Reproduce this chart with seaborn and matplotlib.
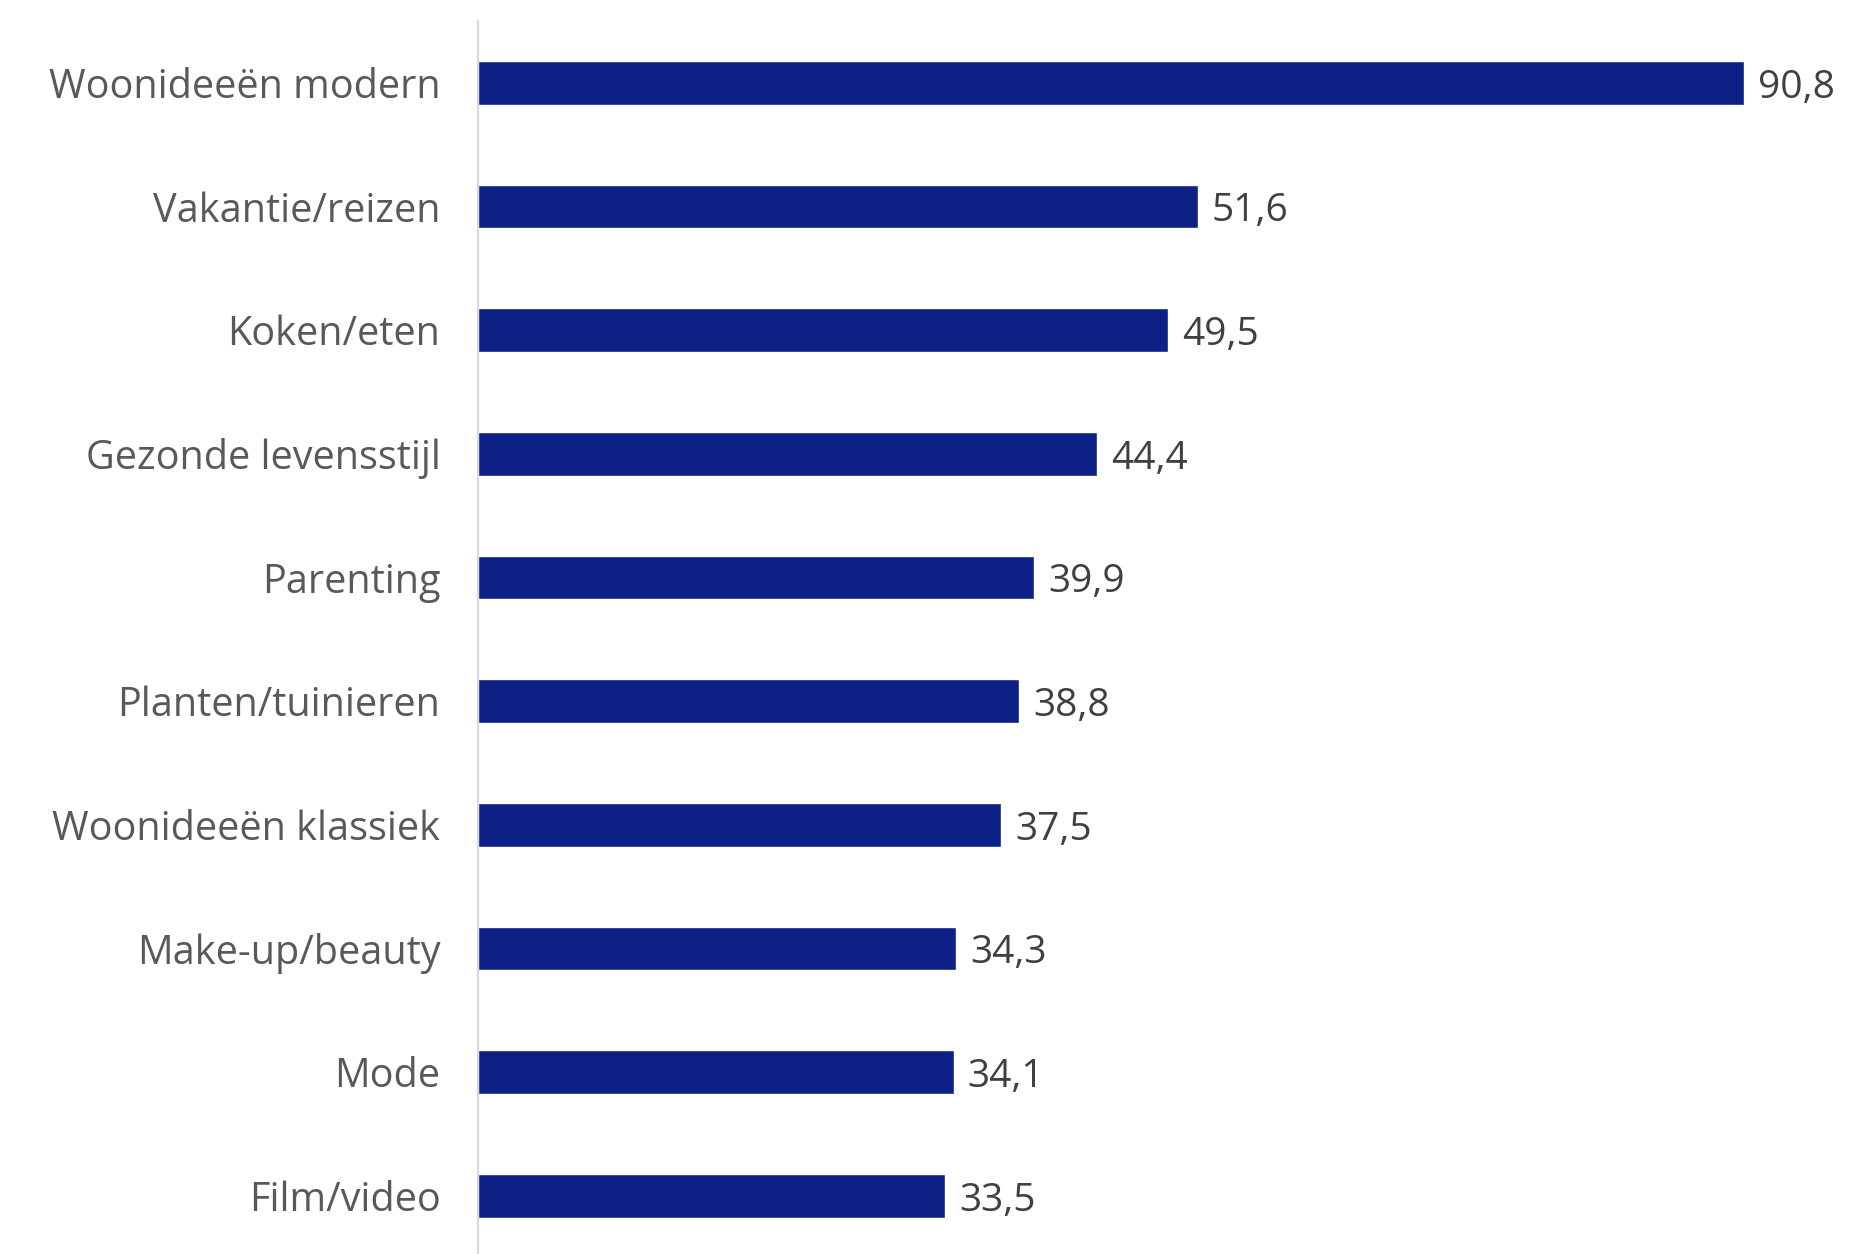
import matplotlib
matplotlib.use("Agg")
import matplotlib.pyplot as plt
import seaborn as sns
import pandas as pd

# Data
categories = [
    "Woonideeën modern", "Vakantie/reizen", "Koken/eten", "Gezonde levensstijl",
    "Parenting", "Planten/tuinieren", "Woonideeën klassiek", "Make-up/beauty",
    "Mode", "Film/video",
]
values = [90.8, 51.6, 49.5, 44.4, 39.9, 38.8, 37.5, 34.3, 34.1, 33.5]

df = pd.DataFrame({"category": categories, "value": values})

sns.set_theme(style="white")
plt.rcParams["font.family"] = ["Open Sans", "DejaVu Sans"]

bar_color = "#0D2085"

fig = plt.figure(figsize=(18.56, 12.54), dpi=100)
ax = fig.add_axes([478 / 1856, 0, 1 - 478 / 1856, 1 - 21 / 1254])

sns.barplot(data=df, x="value", y="category", ax=ax, color=bar_color,
            width=0.355, saturation=1, orient="h")

ax.set_xlim(0, 98.8)
ax.set_ylim(9.47, -0.5)

# value labels
for i, v in enumerate(values):
    ax.text(v + 1.0, i + 0.04, f"{v:.1f}".replace(".", ","), va="center", ha="left",
            fontsize=28, color="#404040")

ax.set_xlabel("")
ax.set_ylabel("")
ax.set_xticks([])
ax.tick_params(axis="y", length=0, pad=27, labelsize=28.5, labelcolor="#595959")

for s in ["top", "right", "bottom"]:
    ax.spines[s].set_visible(False)
ax.spines["left"].set_color("#d9d9d9")
ax.spines["left"].set_linewidth(1.5)

fig.savefig("out.png", dpi=100, facecolor="white")
plt.close(fig)
